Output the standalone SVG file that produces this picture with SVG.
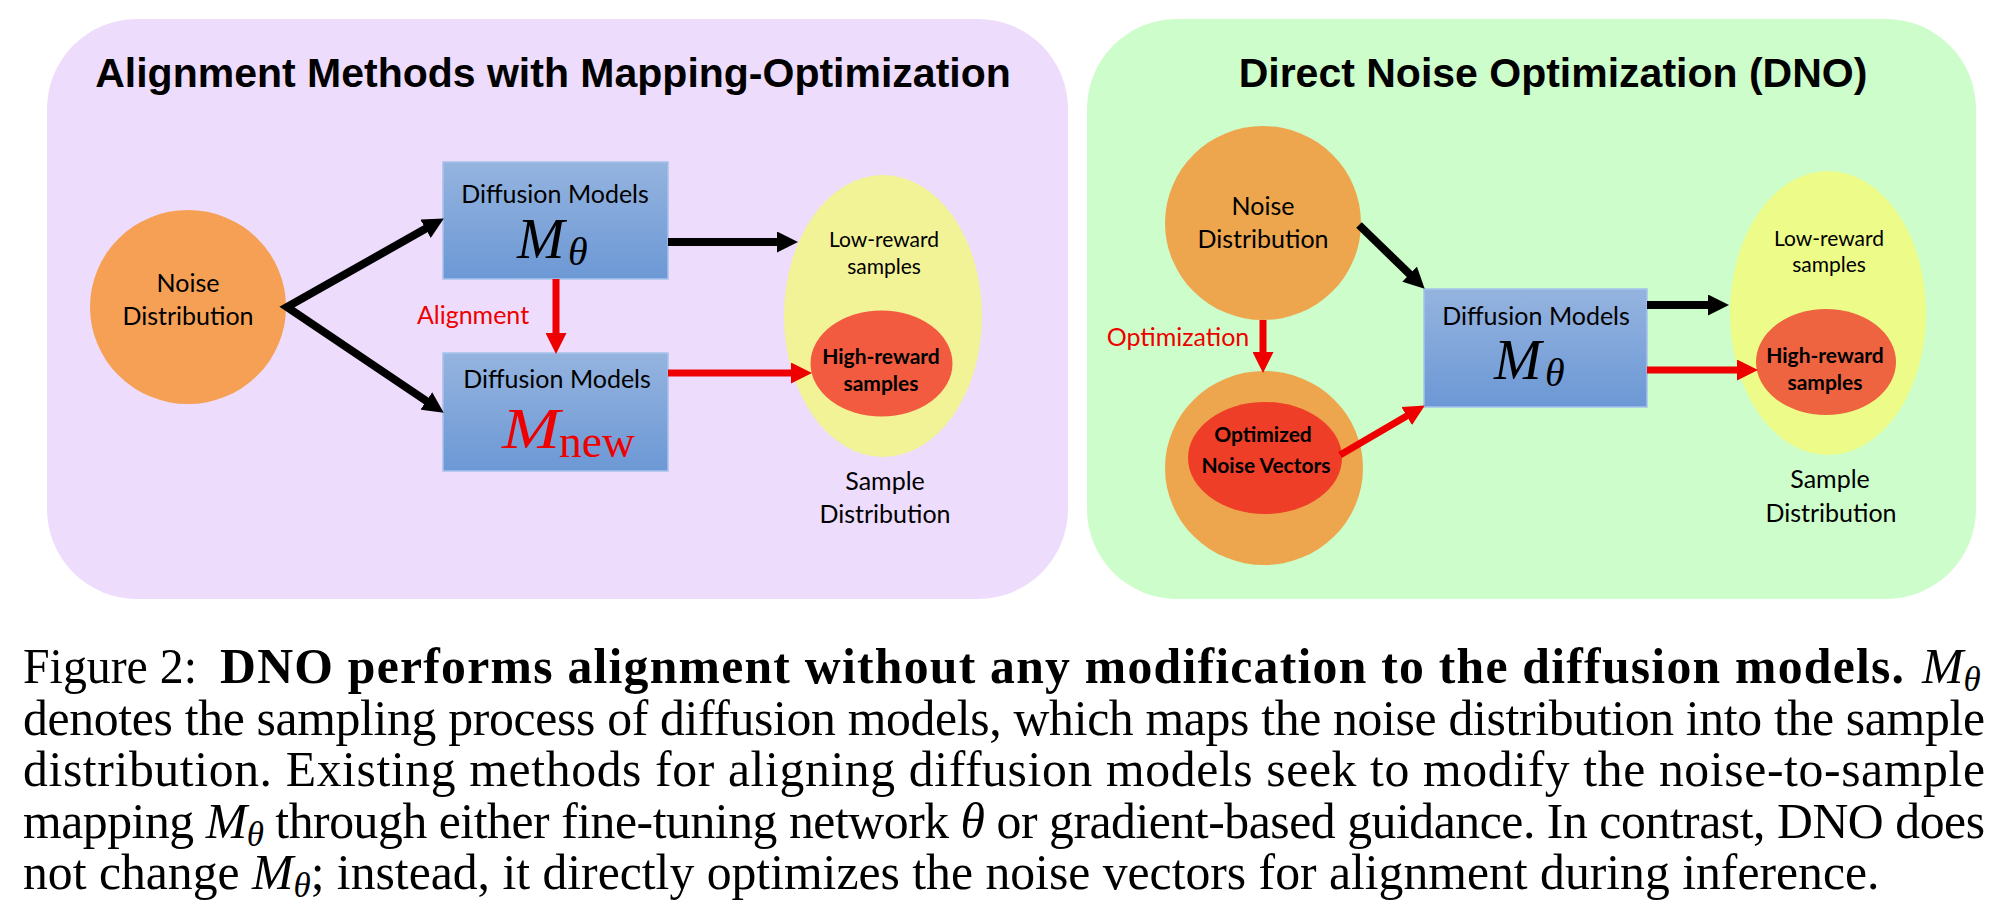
<svg xmlns="http://www.w3.org/2000/svg" width="1996" height="920" viewBox="0 0 1996 920">
<style>
.lbl{font-family:Lato,"Liberation Sans",sans-serif;font-size:25px;fill:#000;text-anchor:middle}
.sm{font-size:21px}
.b{font-weight:bold}
.red{fill:#EE0000}
.title{font-family:"Liberation Sans",Arial,sans-serif;font-weight:bold;font-size:41px;fill:#000;text-anchor:middle}
.math{font-family:"Liberation Serif","Times New Roman",serif;font-style:italic}
.cap{font-family:"Liberation Serif","Times New Roman",serif;font-size:49.7px;fill:#000}
.box{stroke:#A6C2EC;stroke-width:1.5}
.ak{stroke:#000;stroke-width:8;fill:none}
.ar{stroke:#EE0000;stroke-width:7;fill:none}
</style>
<defs>
<linearGradient id="gBox" x1="0" y1="0" x2="0" y2="1">
<stop offset="0" stop-color="#95B4DF"/>
<stop offset="1" stop-color="#6C98D5"/>
</linearGradient>
<marker id="hk" markerUnits="userSpaceOnUse" markerWidth="21" markerHeight="21" refX="5" refY="10.5" orient="auto-start-reverse">
<path d="M0,0 L21,10.5 L0,21 z" fill="#000"/>
</marker>
<marker id="hr" markerUnits="userSpaceOnUse" markerWidth="21" markerHeight="21" refX="5" refY="10.5" orient="auto-start-reverse">
<path d="M0,0 L21,10.5 L0,21 z" fill="#EE0000"/>
</marker>
</defs>
<rect width="1996" height="920" fill="#fff"/>

<g id="panel-left">
<rect x="47" y="19" width="1021" height="580" rx="90" ry="90" fill="#EDDCFB"/>
<text class="title" x="553" y="87">Alignment Methods with Mapping-Optimization</text>
</g>
<g id="panel-right">
<rect x="1087" y="19" width="889" height="580" rx="90" ry="90" fill="#CDFDCA"/>
<text class="title" x="1553" y="87">Direct Noise Optimization (DNO)</text>
</g>

<g id="noise-left">
<ellipse cx="188" cy="307" rx="98" ry="97" fill="#F5A055"/>
<text class="lbl" x="188" y="292">Noise</text>
<text class="lbl" x="188" y="325">Distribution</text>
</g>
<g id="diffusion-theta-left">
<rect class="box" x="443" y="162" width="225" height="117" fill="url(#gBox)"/>
<text class="lbl" x="555" y="203">Diffusion Models</text>
<text class="math" x="517" y="258" font-size="57">M</text>
<text class="math" x="568" y="265" font-size="40">θ</text>
</g>
<g id="diffusion-new-left">
<rect class="box" x="443" y="353" width="225" height="118" fill="url(#gBox)"/>
<text class="lbl" x="557" y="388">Diffusion Models</text>
<text class="math" x="502" y="448" font-size="57" fill="#EE0000" textLength="58" lengthAdjust="spacingAndGlyphs">M</text>
<text x="559" y="457" font-family="Liberation Serif,Times New Roman,serif" font-size="46" fill="#EE0000" textLength="76" lengthAdjust="spacingAndGlyphs">new</text>
</g>
<g id="samples-left">
<ellipse cx="883" cy="316" rx="99" ry="141" fill="#F2F396"/>
<text class="lbl sm" x="884" y="247">Low-reward</text>
<text class="lbl sm" x="884" y="274">samples</text>
<ellipse cx="881.5" cy="363.5" rx="71" ry="53" fill="#F25B40"/>
<text class="lbl sm b" x="881" y="364">High-reward</text>
<text class="lbl sm b" x="881" y="391">samples</text>
<text class="lbl" x="885" y="490">Sample</text>
<text class="lbl" x="885" y="523">Distribution</text>
</g>

<g id="noise-right">
<ellipse cx="1263" cy="223" rx="98" ry="97" fill="#EDA64E"/>
<text class="lbl" x="1263" y="215">Noise</text>
<text class="lbl" x="1263" y="248">Distribution</text>
</g>
<g id="optimized-noise">
<ellipse cx="1264" cy="468" rx="99" ry="97" fill="#EDA64E"/>
<ellipse cx="1265" cy="458" rx="77" ry="56" fill="#EF3E27"/>
<text class="lbl sm b" x="1263" y="442">Optimized</text>
<text class="lbl sm b" x="1266" y="473">Noise Vectors</text>
</g>
<g id="diffusion-right">
<rect class="box" x="1424" y="289" width="223" height="118" fill="url(#gBox)"/>
<text class="lbl" x="1536" y="325">Diffusion Models</text>
<text class="math" x="1494" y="379" font-size="57">M</text>
<text class="math" x="1545" y="386" font-size="40">θ</text>
</g>
<g id="samples-right">
<ellipse cx="1828" cy="313" rx="98" ry="142" fill="#EDFC88"/>
<text class="lbl sm" x="1829" y="246">Low-reward</text>
<text class="lbl sm" x="1829" y="272">samples</text>
<ellipse cx="1826" cy="362" rx="70" ry="53" fill="#EE6340"/>
<text class="lbl sm b" x="1825" y="363">High-reward</text>
<text class="lbl sm b" x="1825" y="390">samples</text>
<text class="lbl" x="1830" y="488">Sample</text>
<text class="lbl" x="1831" y="522">Distribution</text>
</g>

<g id="connectors">
<path class="ak" d="M429.9,226.3 L287,307 L430.5,403.7" stroke-linejoin="miter" marker-start="url(#hk)" marker-end="url(#hk)"/>
<line class="ak" x1="668" y1="242" x2="782" y2="242" marker-end="url(#hk)"/>
<line class="ar" x1="556" y1="279" x2="556" y2="338" marker-end="url(#hr)"/>
<line class="ar" x1="668" y1="373" x2="796" y2="373" marker-end="url(#hr)"/>
<line class="ak" x1="1359" y1="225" x2="1413.2" y2="277.6" marker-end="url(#hk)"/>
<line class="ar" x1="1263" y1="320" x2="1263" y2="357" marker-end="url(#hr)"/>
<line class="ar" x1="1340" y1="455" x2="1411" y2="413.5" marker-end="url(#hr)"/>
<line class="ak" x1="1647" y1="305" x2="1713" y2="305" marker-end="url(#hk)"/>
<line class="ar" x1="1647" y1="370" x2="1742" y2="370" marker-end="url(#hr)"/>
<text class="lbl red" x="473" y="324">Alignment</text>
<text class="lbl red" x="1178" y="346">Optimization</text>
</g>

<g id="caption">
<text class="cap" x="23" y="683" textLength="174" lengthAdjust="spacingAndGlyphs">Figure 2:</text>
<text class="cap" x="220" y="683" font-weight="bold" textLength="1684" lengthAdjust="spacing">DNO performs alignment without any modification to the diffusion models.</text>
<text class="cap" x="1922" y="683" font-style="italic">M<tspan font-size="35" dy="8">θ</tspan></text>
<text class="cap" x="23" y="735" textLength="1962" lengthAdjust="spacing">denotes the sampling process of diffusion models, which maps the noise distribution into the sample</text>
<text class="cap" x="23" y="786" textLength="1962" lengthAdjust="spacing">distribution.  Existing methods for aligning diffusion models seek to modify the noise-to-sample</text>
<text class="cap" x="23" y="838" textLength="1962" lengthAdjust="spacing">mapping <tspan font-style="italic">M</tspan><tspan font-style="italic" font-size="35" dy="8">θ</tspan><tspan dy="-8"> through either fine-tuning network </tspan><tspan font-style="italic">θ</tspan> or gradient-based guidance. In contrast, DNO does</text>
<text class="cap" x="23" y="889">not change <tspan font-style="italic">M</tspan><tspan font-style="italic" font-size="35" dy="8">θ</tspan><tspan dy="-8">; instead, it directly optimizes the noise vectors for alignment during inference.</tspan></text>
</g>
</svg>
